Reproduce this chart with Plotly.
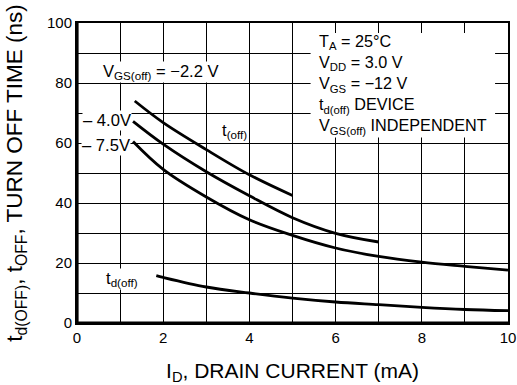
import plotly.graph_objects as go

# Data
x_vgs22 = [1.34, 2.0, 3.0, 4.0, 5.0]
y_vgs22 = [74.0, 66.8, 57.8, 49.4, 42.5]

x_vgs40 = [1.30, 2.0, 3.0, 4.0, 5.0, 6.0, 7.0]
y_vgs40 = [67.2, 59.6, 50.4, 42.4, 35.1, 29.9, 27.0]

x_vgs75 = [1.30, 2.0, 3.0, 4.0, 5.0, 6.0, 7.0, 8.0, 9.0, 10.0]
y_vgs75 = [60.5, 51.2, 42.0, 34.4, 29.2, 25.0, 22.2, 20.3, 18.9, 17.6]

x_tdoff = [1.84, 2.0, 3.0, 4.0, 5.0, 6.0, 7.0, 8.0, 9.0, 10.0]
y_tdoff = [15.8, 15.2, 12.0, 10.0, 8.3, 7.0, 6.1, 5.2, 4.5, 4.1]

x_ticks = [0, 2, 4, 6, 8, 10]
y_ticks = [0, 20, 40, 60, 80, 100]

series = [
    ("V<sub>GS(off)</sub> = −2.2 V", x_vgs22, y_vgs22),
    ("−4.0 V", x_vgs40, y_vgs40),
    ("−7.5 V", x_vgs75, y_vgs75),
    ("t<sub>d(off)</sub>", x_tdoff, y_tdoff),
]

FONT = "Liberation Sans, Arial, Helvetica, sans-serif"

fig = go.Figure()
for name, xs, ys in series:
    fig.add_trace(go.Scatter(
        x=xs, y=ys, mode="lines", name=name,
        line=dict(color="black", width=2.8, shape="spline", smoothing=1.0),
        showlegend=False, hoverinfo="skip",
    ))

# white box behind the conditions text (covers grid)
fig.add_shape(type="rect", xref="x", yref="y", x0=5.42, x1=9.70, y0=61.8, y1=96.7,
              fillcolor="white", line=dict(width=0), layer="between")

# thick left and bottom frame
fig.add_shape(type="line", xref="paper", yref="paper", x0=0, x1=0, y0=0, y1=1,
              line=dict(color="black", width=3.2), layer="above")
fig.add_shape(type="line", xref="paper", yref="paper", x0=0, x1=1, y0=0, y1=0,
              line=dict(color="black", width=3.2), layer="above")

ann_font = dict(family=FONT, size=16.6, color="black")
labels = [
    ("V<sub>GS(off)</sub> = −2.2 V", 0.57, 83.6, "left"),
    ("– 4.0V", 1.27, 67.4, "right"),
    ("– 7.5V", 1.26, 59.1, "right"),
    ("t<sub>(off)</sub>", 3.35, 63.9, "left"),
    ("t<sub>d(off)</sub>", 0.64, 14.6, "left"),
]
for text, x, y, anchor in labels:
    fig.add_annotation(x=x, y=y, xref="x", yref="y", text=text, showarrow=False,
                       xanchor=anchor, yanchor="middle", font=ann_font,
                       bgcolor="white", borderpad=0)

cond_text = ("T<sub>A</sub> = 25°C<br>V<sub>DD</sub> = 3.0 V<br>V<sub>GS</sub> = −12 V<br>"
             "t<sub>d(off)</sub> DEVICE<br>V<sub>GS(off)</sub> INDEPENDENT")
fig.add_annotation(x=5.56, y=79.6, xref="x", yref="y", text=cond_text, showarrow=False,
                   xanchor="left", yanchor="middle", align="left",
                   font=dict(family=FONT, size=16.2, color="black"))

fig.update_xaxes(
    range=[0, 10], tickvals=x_ticks, ticktext=[str(v) for v in x_ticks],
    showline=True, linecolor="black", linewidth=2, mirror=True,
    ticks="", zeroline=False, automargin=False,
    showgrid=True, gridcolor="black", gridwidth=1.3,
    minor=dict(dtick=1, showgrid=True, gridcolor="black", gridwidth=1.3),
    tickfont=dict(family=FONT, size=15, color="black"),
    title=dict(text="I<sub>D</sub>, DRAIN CURRENT (mA)",
               font=dict(family=FONT, size=21, color="black"), standoff=18),
)
fig.update_yaxes(
    range=[0, 100], tickvals=y_ticks, ticktext=[str(v) for v in y_ticks],
    showline=True, linecolor="black", linewidth=2, mirror=True,
    ticks="", zeroline=False, automargin=False,
    showgrid=True, gridcolor="black", gridwidth=1.3,
    minor=dict(dtick=10, showgrid=True, gridcolor="black", gridwidth=1.3),
    tickfont=dict(family=FONT, size=15, color="black"),
    title=dict(text="t<sub>d(OFF)</sub>, t<sub>OFF</sub>, TURN OFF TIME (ns)",
               font=dict(family=FONT, size=22.5, color="black"), standoff=18),
)

fig.update_layout(
    width=517, height=385,
    margin=dict(l=77, r=9, t=23, b=62),
    paper_bgcolor="white", plot_bgcolor="white",
    font=dict(family=FONT, color="black"),
)

fig.write_html("out.html")
